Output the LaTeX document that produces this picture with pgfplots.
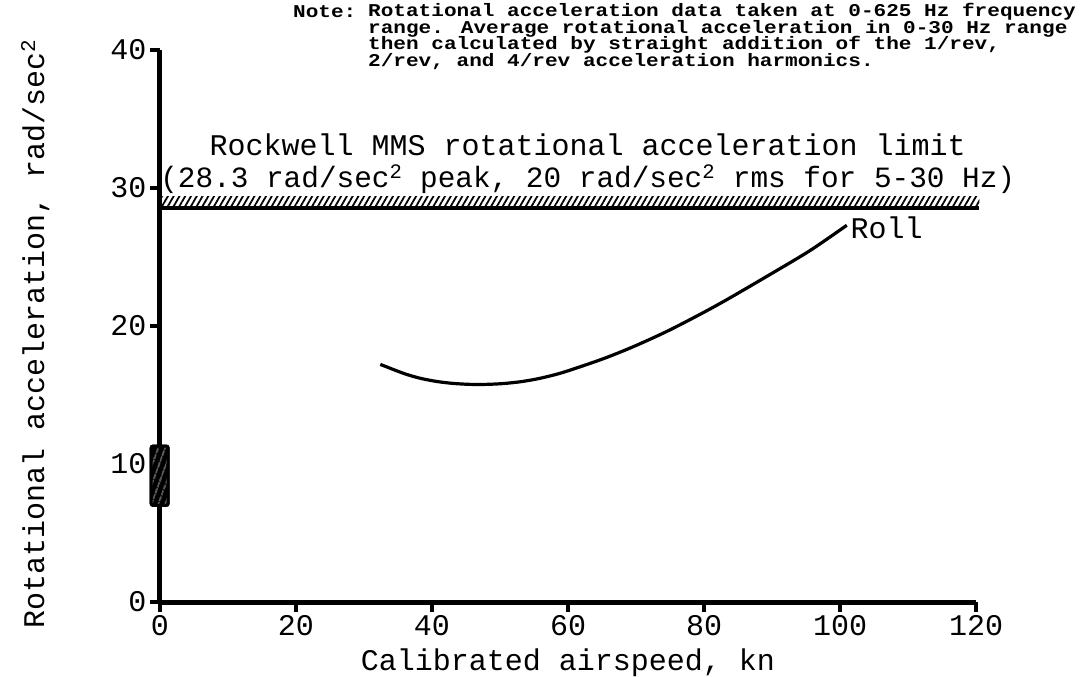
\documentclass[border=0pt]{standalone}
\usepackage{fontspec}
\setmainfont{Liberation Mono}
\newfontfamily\notefont[FakeStretch=1.17]{Liberation Mono}
\usepackage{pgfplots}
\pgfplotsset{compat=1.18}
\usetikzlibrary{patterns.meta}
\begin{document}
\begin{tikzpicture}
\useasboundingbox (-160bp,-75bp) rectangle (923bp,602bp);
\begin{axis}[
  at={(0,0)}, anchor=south west,
  scale only axis, width=816bp, height=552bp,
  xmin=0, xmax=120, ymin=0, ymax=40,
  enlargelimits=false, clip=false,
  axis lines=left,
  axis line style={line width=5bp,-},
  every tick/.style={line width=3.5bp,black},
  tick align=outside, major tick length=10bp,
  xtick={0,20,...,120}, ytick={0,10,...,40},
  /pgf/number format/assume math mode=true,
  tick label style={font=\fontsize{30bp}{34bp}\selectfont},
  label style={font=\fontsize{30bp}{34bp}\selectfont},
  xlabel={Calibrated airspeed, kn},
  xlabel style={at={(axis description cs:0.5,-0.1105)}, anchor=center},
  ylabel={Rotational acceleration, rad/sec\textsuperscript{2}},
  ylabel style={at={(axis description cs:-0.153,0.486)}, anchor=center},
]
% limit band
\addplot[draw=none, pattern={Lines[angle=60,distance=5bp,line width=1.8bp]}] coordinates {(0,28.55) (120.5,28.55) (120.5,29.35) (0,29.35)} -- cycle;
\addplot[line width=3.5bp, black] coordinates {(0,28.55) (120.5,28.55)};
% small box at 0 kn
\addplot[draw=black, line width=3bp, fill=black, rounded corners=2bp,
  postaction={pattern={Lines[angle=70,distance=6bp,line width=0.8bp]}, pattern color=white}]
  coordinates {(-1.3,7.0) (1.2,7.0) (1.2,11.3) (-1.3,11.3)} -- cycle;
% Roll curve
\addplot[line width=3.2bp, black, smooth] coordinates {
(32.4,17.22) (35.8,16.57) (38.2,16.22) (40.7,15.98) (43.1,15.84) (45.6,15.77)
(48,15.77) (50.5,15.83) (53,15.96) (55.4,16.16) (58,16.46) (60.3,16.8)
(65.2,17.63) (69.6,18.5) (74.5,19.6) (79.4,20.84) (83.5,21.95)
(89.7,23.73) (95.6,25.47) (101,27.3)};
\node[anchor=west, font=\fontsize{30bp}{34bp}\selectfont, inner sep=1bp] at (axis cs:101.4,27.1) {Roll};
\node[anchor=center, inner sep=0pt, font=\fontsize{30bp}{34bp}\selectfont] at (axis cs:62.9,33.15) {Rockwell MMS rotational acceleration limit};
\node[anchor=center, inner sep=0pt, font=\fontsize{29.4bp}{34bp}\selectfont] at (axis cs:62.9,30.65) {(28.3 rad/sec\textsuperscript{2} peak, 20 rad/sec\textsuperscript{2} rms for 5-30 Hz)};
\end{axis}
\begin{scope}[every node/.style={anchor=west, inner sep=0pt, font=\notefont\bfseries\fontsize{18bp}{18bp}\selectfont}]
\node at (133bp,590bp) {Note:};
\node at (208bp,590bp) {Rotational acceleration data taken at 0-625 Hz frequency};
\node at (208bp,573.5bp) {range.  Average rotational acceleration in 0-30 Hz range};
\node at (208bp,557bp) {then calculated by straight addition of the 1/rev,};
\node at (208bp,540.5bp) {2/rev, and 4/rev acceleration harmonics.};
\end{scope}
\end{tikzpicture}
\end{document}
